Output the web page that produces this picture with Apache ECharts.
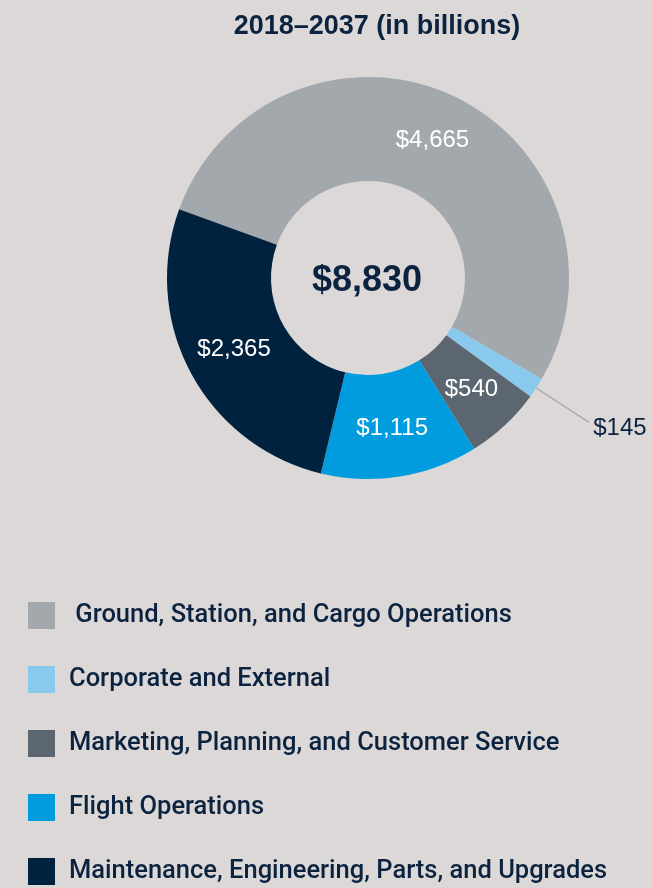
<!DOCTYPE html>
<html>
<head>
<meta charset="utf-8">
<script src="https://cdn.jsdelivr.net/npm/echarts@6/dist/echarts.min.js"></script>
<style>
  html, body { margin: 0; padding: 0; background: #dcd8d7; }
  #chart { width: 652px; height: 888px; }
</style>
</head>
<body>
<div id="chart"></div>
<script>
// data
const categories = [
  ' Ground, Station, and Cargo Operations',
  'Corporate and External',
  'Marketing, Planning, and Customer Service',
  'Flight Operations',
  'Maintenance, Engineering, Parts, and Upgrades'
];
const values = [4665, 145, 540, 1115, 2365];
const colors = ['#a3a8ac', '#8ac9ee', '#5b6670', '#009cde', '#00223e'];
const titleText = '2018\u20132037 (in billions)';

const navy = '#0c2340';
const fmt = v => '$' + v.toLocaleString('en-US');
const total = values.reduce((a, b) => a + b, 0);
const smallIndex = values.indexOf(Math.min(...values));

const chart = echarts.init(document.getElementById('chart'));

const pieData = categories.map((name, i) => {
  const item = { name: name, value: values[i], itemStyle: { color: colors[i] } };
  // the smallest slice gets its label outside with a leader line
  if (i === smallIndex) {
    item.label = {
      position: 'outside',
      color: navy,
      fontSize: 24,
      distanceToLabelLine: 6
    };
    item.labelLine = {
      show: true,
      length: 62,
      length2: 1,
      lineStyle: { color: '#a5a5a5', width: 1.2 }
    };
  }
  return item;
});

const option = {
  backgroundColor: '#dcd8d7',
  animation: false,
  title: {
    text: titleText,
    left: 372,
    textAlign: 'center',
    top: 8,
    textStyle: {
      fontFamily: 'Liberation Sans',
      fontWeight: 'bold',
      fontSize: 27,
      color: navy
    }
  },
  graphic: [{
    type: 'text',
    left: 368 - 56,
    top: 278 - 15,
    style: {
      text: fmt(total),
      fontFamily: 'Liberation Sans',
      fontWeight: 'bold',
      fontSize: 36,
      fill: navy
    }
  }],
  legend: {
    orient: 'vertical',
    left: 28,
    top: 602,
    height: 286,
    padding: 0,
    itemWidth: 27,
    itemHeight: 27,
    itemGap: 37,
    icon: 'rect',
    selectedMode: false,
    data: categories,
    textStyle: {
      fontFamily: 'Roboto',
      fontWeight: 500,
      fontSize: 25.5,
      color: navy,
      padding: [6, 0, 0, 9]
    }
  },
  series: [{
    type: 'pie',
    center: [368, 278],
    radius: [97, 201],
    startAngle: 160,
    clockwise: true,
    avoidLabelOverlap: false,
    label: {
      show: true,
      position: 'inside',
      formatter: p => fmt(p.value),
      color: '#ffffff',
      fontFamily: 'Liberation Sans',
      fontSize: 24
    },
    labelLine: { show: false },
    // nudge the outside label a little below its leader line, as in the source
    labelLayout: p => (p.dataIndex === smallIndex ? { dy: 7, dx: -2 } : {}),
    emphasis: { disabled: true },
    data: pieData
  }]
};

chart.setOption(option);
</script>
</body>
</html>
